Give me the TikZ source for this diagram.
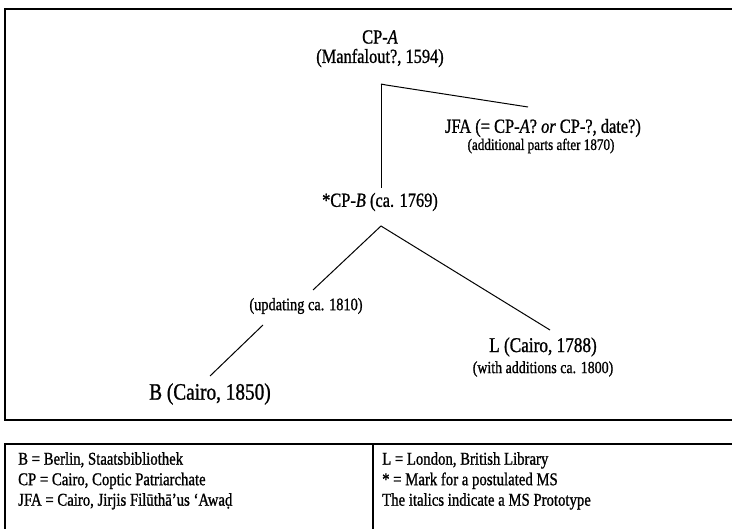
\documentclass[tikz,border=0pt]{standalone}
\usepackage{fontspec}
\setmainfont{Liberation Serif}[FakeStretch=0.82, FakeBold=1]
\begin{document}
\begin{tikzpicture}[x=1pt,y=-1pt,
  mainlbl/.style={font=\fontsize{20}{22}\selectfont, inner sep=0pt},
  sublbl/.style={font=\fontsize{16}{18}\selectfont, inner sep=0pt},
  leglbl/.style={font=\fontsize{18}{20.5}\selectfont, inner sep=0pt, align=left, anchor=north west},
  conn/.style={line width=1pt},
  frame/.style={line width=2pt}]
\useasboundingbox (0,0) rectangle (732,529);
% frames
\draw[frame] (740,9) -- (5,9) -- (5,420) -- (740,420);
\draw[frame] (740,444) -- (5,444) -- (5,540);
\draw[frame] (373,444) -- (373,540);
% nodes
\node[mainlbl] (cpa) at (380,37) {CP-\textit{A}};
\node[mainlbl] (cpaw) at (380,58) {(Manfalout?, 1594)};
\node[mainlbl] (jfa) at (543,128) {JFA (= CP-\textit{A}? \textit{or} CP-?, date?)};
\node[sublbl] (jfas) at (541,146) {(additional parts after 1870)};
\node[mainlbl] (cpb) at (380,202) {*CP-\textit{B} (ca. 1769)};
\node[sublbl, font=\fontsize{17.5}{19}\selectfont] (upd) at (306,306) {(updating ca. 1810)};
\node[mainlbl, font=\fontsize{23.5}{25}\selectfont] (b) at (210,394) {B (Cairo, 1850)};
\node[mainlbl, font=\fontsize{21}{23}\selectfont] (l) at (543,347) {L (Cairo, 1788)};
\node[sublbl, font=\fontsize{17}{19}\selectfont] (ls) at (543,369) {(with additions ca. 1800)};
% connector points
\coordinate (ka) at (381,84);
\coordinate (kb) at (381,188);
\coordinate (kj) at (528,107);
\coordinate (pb) at (381,226);
\coordinate (pu) at (313,290);
\coordinate (pl) at (550,330);
\coordinate (ub) at (263,325);
\coordinate (bt) at (210,376);
\draw[conn] (ka) -- (kb);
\draw[conn] (ka) -- ++(5,1) -- (kj);
\draw[conn] (pu) -- (pb) -- (pl);
\draw[conn] (ub) -- (bt);
% legend
\node[leglbl] (legl) at (18,452) {B = Berlin, Staatsbibliothek\\CP = Cairo, Coptic Patriarchate\\JFA = Cairo, Jirjis Filūthā’us ‘Awaḍ};
\node[leglbl] (legr) at (382,452) {L = London, British Library\\* = Mark for a postulated MS\\The italics indicate a MS Prototype};
\end{tikzpicture}
\end{document}
